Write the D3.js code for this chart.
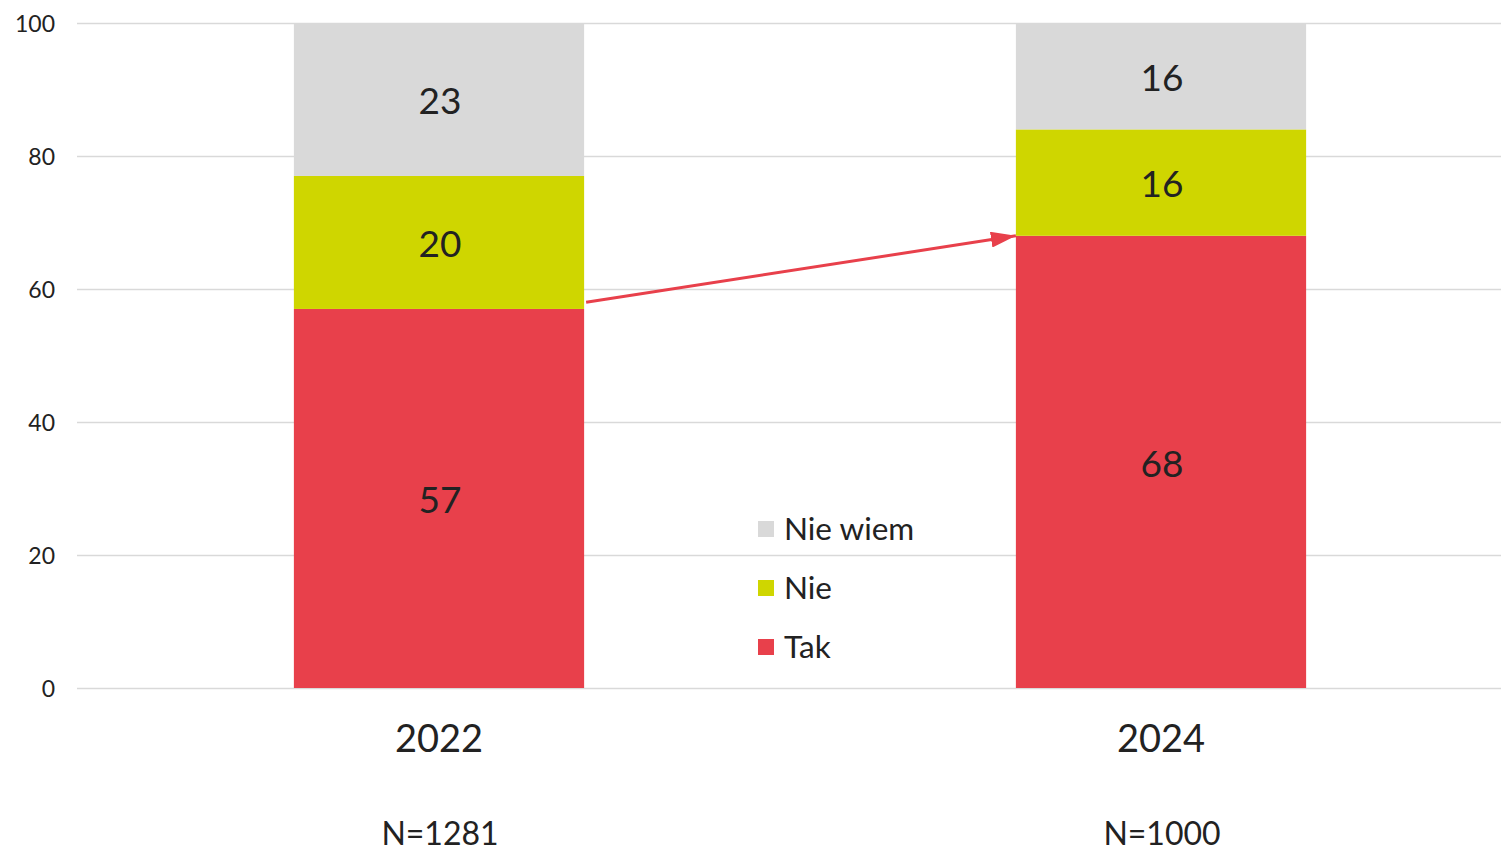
<!DOCTYPE html>
<html><head><meta charset="utf-8">
<script src="https://cdn.jsdelivr.net/npm/d3@7"></script>
<style>body{margin:0;background:#fff}svg{display:block}text{font-family:Lato,"Noto Sans",sans-serif;fill:#222}</style>
</head><body>
<svg id="c" width="1501" height="850"></svg>
<script>
const years = ["2022", "2024"];
const sampleSizes = ["N=1281", "N=1000"];
const seriesNames = ["Tak", "Nie", "Nie wiem"];
const tak = [57, 68];
const nie = [20, 16];
const nieWiem = [23, 16];
const colors = ["#e8404b", "#cfd600", "#d9d9d9"];
const yTicks = [0, 20, 40, 60, 80, 100];
const arrowFrom = 58, arrowTo = 68;

const svg = d3.select("#c");
const y = d3.scaleLinear().domain([0, 100]).range([688, 23]);
const x = d3.scaleBand().domain(years).range([78, 1522]).paddingInner(0.598).paddingOuter(0.299);

// grid
svg.append("g").selectAll("line").data(yTicks).join("line")
  .attr("x1", 77).attr("x2", 1501).attr("y1", d => y(d) + 0.5).attr("y2", d => y(d) + 0.5)
  .attr("stroke", "#d9d9d9").attr("stroke-width", 1.5);
svg.append("g").selectAll("text").data(yTicks).join("text")
  .attr("x", 55).attr("y", d => y(d) + 1).attr("dy", "0.35em").attr("text-anchor", "end")
  .attr("font-size", 23).text(d => d);

const rows = years.map((yr, i) => ({year: yr, Tak: tak[i], Nie: nie[i], "Nie wiem": nieWiem[i]}));
const stack = d3.stack().keys(seriesNames)(rows);
const color = d3.scaleOrdinal().domain(seriesNames).range(colors);

const layers = svg.append("g").selectAll("g").data(stack).join("g").attr("fill", d => color(d.key));
layers.selectAll("rect").data(d => d).join("rect")
  .attr("x", d => x(d.data.year)).attr("width", x.bandwidth())
  .attr("y", d => y(d[1])).attr("height", d => y(d[0]) - y(d[1]));
layers.selectAll("text").data(d => d).join("text")
  .attr("x", d => x(d.data.year) + x.bandwidth() / 2 + 1)
  .attr("y", d => y((d[0] + d[1]) / 2)).attr("dy", "0.4em")
  .attr("text-anchor", "middle").attr("font-size", 37)
  .text(d => d[1] - d[0]);

// x labels
svg.append("g").selectAll("text").data(years).join("text")
  .attr("x", d => x(d) + x.bandwidth() / 2).attr("y", 752)
  .attr("text-anchor", "middle").attr("font-size", 38).text(d => d);
svg.append("g").selectAll("text").data(sampleSizes).join("text")
  .attr("x", (d, i) => x(years[i]) + x.bandwidth() / 2 + 1).attr("y", 845)
  .attr("text-anchor", "middle").attr("font-size", 32).text(d => d);

// arrow
svg.append("defs").append("marker").attr("id", "ah")
  .attr("viewBox", "0 0 25 16").attr("refX", 25).attr("refY", 8)
  .attr("markerWidth", 25 / 3).attr("markerHeight", 16 / 3).attr("markerUnits", "strokeWidth")
  .attr("orient", "auto")
  .append("path").attr("d", "M0,0L25,8L0,16Z").attr("fill", "#e8404b");
svg.append("line")
  .attr("x1", x(years[0]) + x.bandwidth() + 2).attr("y1", y(arrowFrom))
  .attr("x2", x(years[1])).attr("y2", y(arrowTo))
  .attr("stroke", "#e8404b").attr("stroke-width", 3).attr("marker-end", "url(#ah)");

// legend
const legendOrder = ["Nie wiem", "Nie", "Tak"];
const lg = svg.append("g").selectAll("g").data(legendOrder).join("g")
  .attr("transform", (d, i) => `translate(758,${529 + i * 59})`);
lg.append("rect").attr("x", 0).attr("y", -8).attr("width", 16).attr("height", 16).attr("fill", d => color(d));
lg.append("text").attr("x", 26).attr("y", 0).attr("dy", "0.36em").attr("font-size", 31.5).text(d => d);
</script>
</body></html>
